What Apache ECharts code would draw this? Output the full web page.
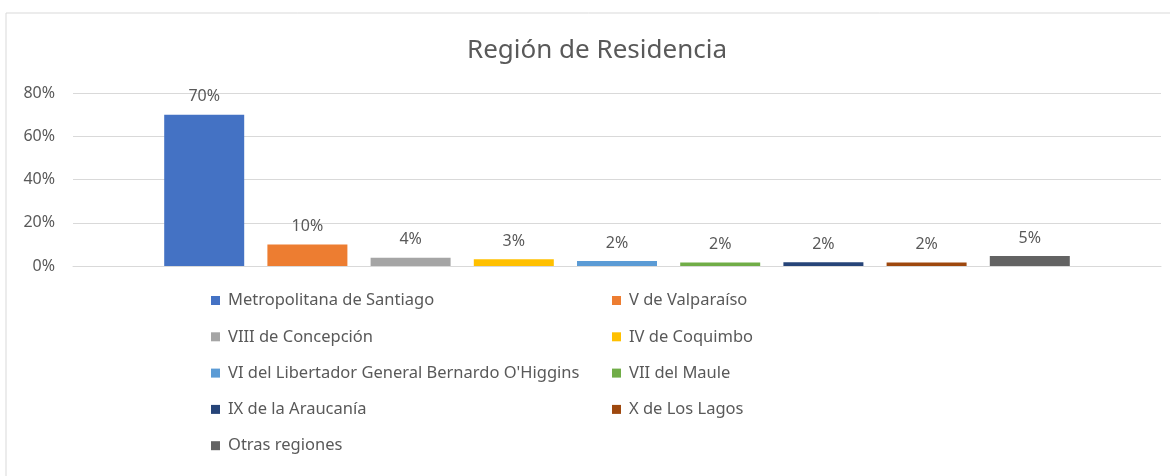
<!DOCTYPE html>
<html>
<head>
<meta charset="utf-8">
<script src="https://cdn.jsdelivr.net/npm/echarts@6/dist/echarts.min.js"></script>
<style>
  html, body { margin: 0; padding: 0; background: #fff; }
  #chart { width: 1170px; height: 476px; }
</style>
</head>
<body>
<div id="chart"></div>
<script>
  // series names (one bar per region)
  var regions = [
    'Metropolitana de Santiago',
    'V de Valparaíso',
    'VIII de Concepción',
    'IV de Coquimbo',
    'VI del Libertador General Bernardo O\'Higgins',
    'VII del Maule',
    'IX de la Araucanía',
    'X de Los Lagos',
    'Otras regiones'
  ]
  // share of respondents
  var shares = [0.70, 0.10, 0.038, 0.031, 0.023, 0.016, 0.017, 0.016, 0.046]
  var colors = ['#4472C4', '#ED7D31', '#A5A5A5', '#FFC000', '#5B9BD5', '#70AD47', '#264478', '#9E480E', '#636363']
  var yTicks = [0, 0.2, 0.4, 0.6, 0.8]

  var leftCol = [regions[0], regions[2], regions[4], regions[6], regions[8]]
  var rightCol = [regions[1], regions[3], regions[5], regions[7]]

  var font = '"Noto Sans", sans-serif'
  var txt = '#595959'

  var dom = echarts.init(document.getElementById('chart'))

  var series = regions.map(function (name, i) {
    return {
      name: name,
      type: 'bar',
      data: [shares[i]],
      barWidth: 80,
      barGap: '29%',
      itemStyle: { color: colors[i] },
      label: {
        show: true,
        position: 'top',
        distance: 10,
        color: txt,
        fontFamily: font,
        fontSize: 16,
        formatter: function (p) { return Math.round(p.value * 100) + '%' }
      }
    }
  })

  var legendBase = {
    orient: 'vertical',
    icon: 'rect',
    padding: 0,
    itemWidth: 9,
    itemHeight: 9,
    itemGap: 19.3,
    textStyle: { color: txt, fontFamily: font, fontSize: 16.5, lineHeight: 17, padding: [0, 0, 0, 3] }
  }

  var option = {
    animation: false,
    color: colors,
    graphic: [{
      type: 'rect',
      shape: { x: 6, y: 13, width: 1180, height: 480 },
      style: { fill: 'none', stroke: '#d9d9d9', lineWidth: 1 },
      silent: true
    }],
    title: {
      text: 'Región de Residencia',
      left: 462,
      top: 33,
      textStyle: { color: txt, fontFamily: font, fontSize: 26, fontWeight: 'normal' }
    },
    legend: [
      Object.assign({}, legendBase, { data: leftCol, left: 211, top: 292 }),
      Object.assign({}, legendBase, { data: rightCol, left: 612, top: 292 })
    ],
    grid: { left: 73, right: 9, top: 93, bottom: 210 },
    xAxis: {
      type: 'category',
      data: [''],
      axisLine: { lineStyle: { color: '#d9d9d9' } },
      axisTick: { show: false },
      axisLabel: { show: false }
    },
    yAxis: {
      type: 'value',
      min: yTicks[0],
      max: yTicks[yTicks.length - 1],
      interval: 0.2,
      axisLine: { show: false },
      axisTick: { show: false },
      splitLine: { lineStyle: { color: '#d9d9d9' } },
      axisLabel: {
        margin: 18,
        color: txt,
        fontFamily: font,
        fontSize: 16,
        formatter: function (v) { return Math.round(v * 100) + '%' }
      }
    },
    series: series
  }

  dom.setOption(option)
</script>
</body>
</html>
